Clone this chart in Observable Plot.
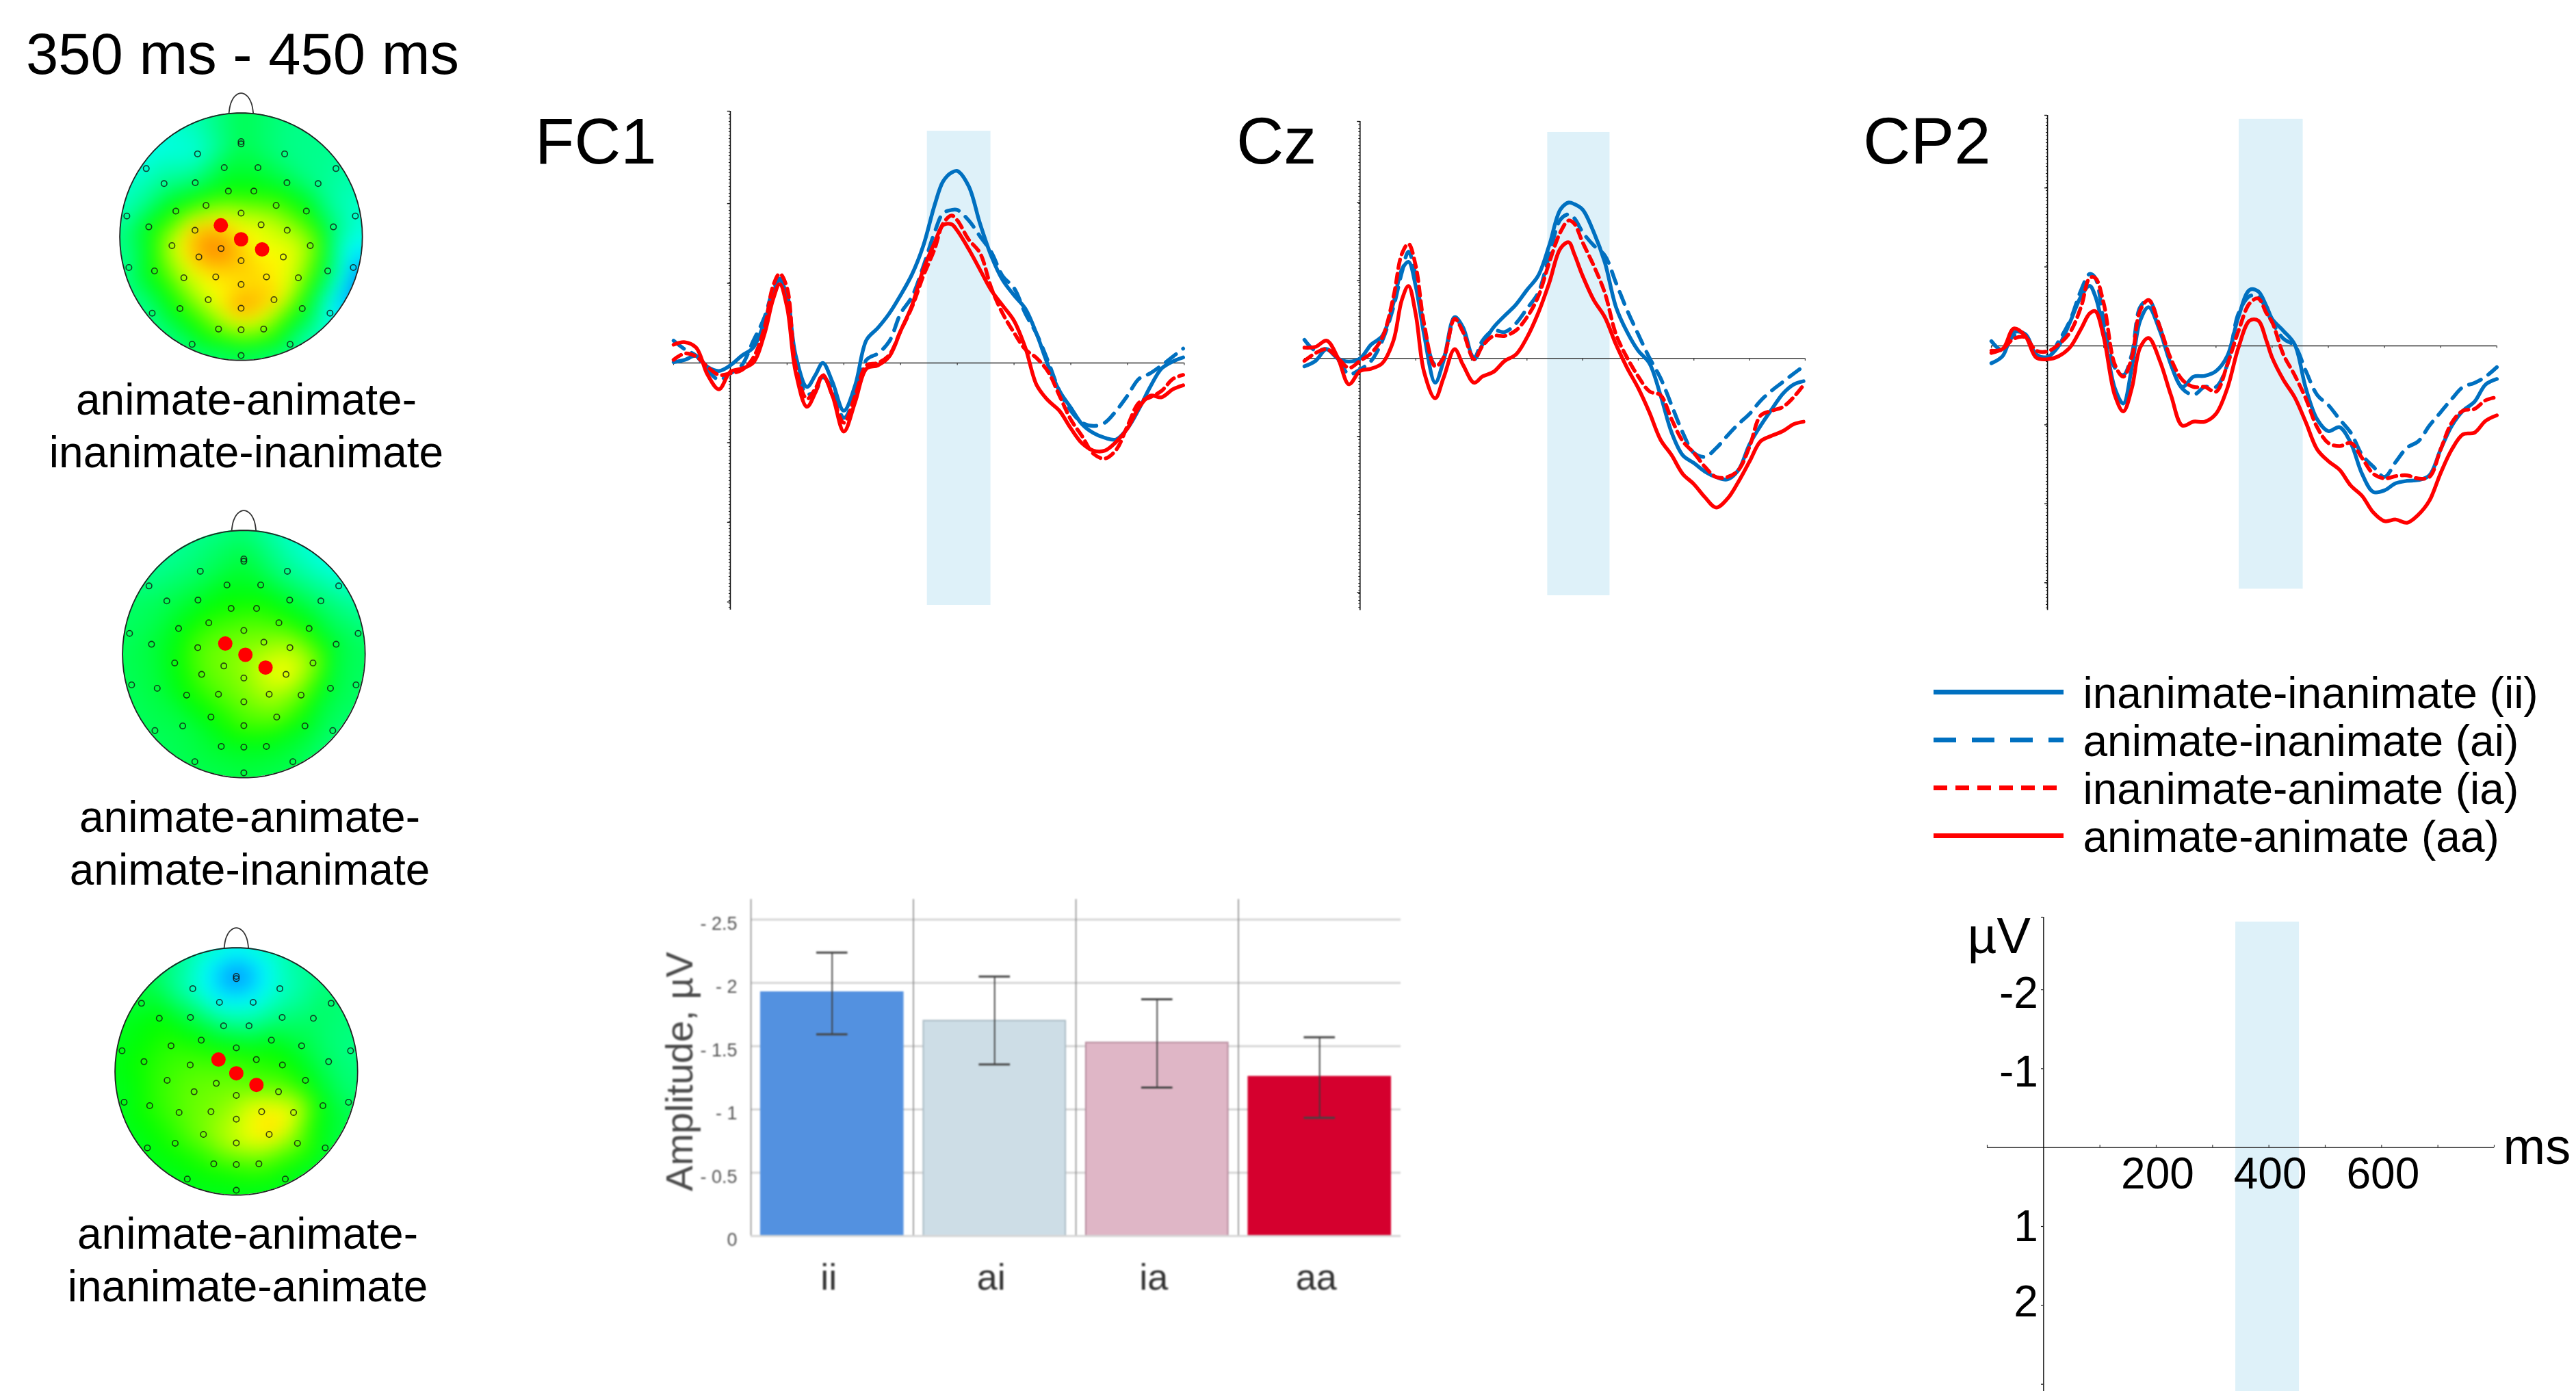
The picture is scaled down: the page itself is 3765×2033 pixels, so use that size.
<!DOCTYPE html>
<html><head><meta charset="utf-8">
<script src="https://cdn.jsdelivr.net/npm/d3@7"></script>
<script src="https://cdn.jsdelivr.net/npm/@observablehq/plot@0.6"></script>
<style>
html,body{margin:0;background:#fff}
#page{position:relative;width:3765px;height:2033px;overflow:hidden;background:#fff;font-family:"Liberation Sans",Arial,sans-serif;color:#000}
#page>svg,#page>.p{position:absolute}
.t{position:absolute;white-space:pre;line-height:normal}
</style></head><body><div id="page"></div>
<script>
// ---------- ERP data (µV, negative up) ----------
const tFC1=[-100,-80,-60,-40,-20,0,20,40,60,75,87,100,115,135,150,163,180,200,220,240,260,280,300,320,340,360,375,390,400,420,440,460,480,500,520,540,560,580,600,620,640,660,680,700,720,740,760,780,798];
const fc1_ii=[-0.01,-0.04,-0.09,0.05,0.10,0.03,-0.09,-0.19,-0.51,-0.87,-1.04,-0.83,-0.10,0.30,0.15,0.00,0.24,0.60,0.28,-0.29,-0.44,-0.62,-0.85,-1.11,-1.47,-1.98,-2.28,-2.39,-2.41,-2.22,-1.75,-1.34,-1.04,-0.85,-0.68,-0.36,0.03,0.35,0.56,0.77,0.88,0.94,0.96,0.82,0.58,0.30,0.07,-0.02,-0.07];
const fc1_ai=[-0.28,-0.17,-0.09,0.09,0.21,0.13,0.03,-0.27,-0.57,-0.91,-1.06,-0.87,-0.02,0.39,0.35,0.18,0.32,0.69,0.41,-0.04,-0.12,-0.27,-0.62,-0.83,-1.21,-1.64,-1.88,-1.92,-1.92,-1.79,-1.59,-1.39,-1.09,-0.94,-0.62,-0.36,-0.02,0.35,0.60,0.75,0.79,0.75,0.60,0.41,0.20,0.13,0.03,-0.08,-0.18];
const fc1_ia=[-0.04,-0.12,-0.08,0.05,0.15,0.13,0.09,-0.06,-0.44,-0.96,-1.12,-0.94,0.03,0.45,0.32,0.15,0.41,0.75,0.41,0.03,0.00,-0.10,-0.40,-0.70,-1.09,-1.43,-1.75,-1.85,-1.79,-1.55,-1.38,-0.94,-0.62,-0.38,-0.17,-0.06,0.11,0.41,0.71,0.92,1.14,1.20,1.09,0.79,0.50,0.43,0.35,0.20,0.15];
const fc1_aa=[-0.23,-0.26,-0.19,0.15,0.33,0.11,0.07,0.00,-0.36,-0.79,-0.99,-0.70,0.11,0.55,0.37,0.16,0.41,0.86,0.49,0.07,0.03,-0.08,-0.40,-0.72,-1.17,-1.51,-1.73,-1.74,-1.66,-1.43,-1.17,-0.91,-0.72,-0.53,-0.19,0.28,0.47,0.60,0.82,1.01,1.10,1.10,0.99,0.82,0.56,0.41,0.43,0.33,0.28];

const tCz=[-100,-80,-60,-40,-20,0,20,40,60,75,87,100,115,135,150,170,185,205,220,240,260,280,300,320,340,360,375,385,400,420,440,460,480,500,520,540,560,580,600,620,640,660,680,700,720,740,760,780,797];
const cz_ii=[0.10,0.03,-0.12,0,0.04,0,-0.18,-0.29,-0.71,-1.14,-1.24,-0.93,-0.31,0.31,0.03,-0.53,-0.40,0.01,-0.18,-0.40,-0.55,-0.69,-0.88,-1.06,-1.45,-1.91,-2.00,-1.98,-1.91,-1.62,-1.23,-0.66,-0.34,-0.10,0.06,0.47,0.95,1.24,1.34,1.45,1.52,1.55,1.43,1.10,0.86,0.65,0.45,0.33,0.29];
const cz_ai=[-0.24,-0.10,-0.12,0.01,0.20,0.14,0.03,-0.23,-0.66,-1.10,-1.37,-1.06,-0.40,0.08,-0.01,-0.53,-0.36,-0.01,-0.23,-0.36,-0.34,-0.45,-0.64,-0.84,-1.32,-1.78,-1.85,-1.80,-1.62,-1.45,-1.32,-0.97,-0.62,-0.31,-0.01,0.25,0.60,0.95,1.21,1.26,1.15,0.99,0.84,0.71,0.54,0.41,0.30,0.19,0.10];
const cz_ia=[0.03,-0.07,-0.12,-0.01,0.12,0.03,-0.07,-0.27,-0.79,-1.34,-1.47,-1.19,-0.45,0.10,-0.01,-0.51,-0.34,0.01,-0.16,-0.29,-0.29,-0.36,-0.53,-0.79,-1.23,-1.62,-1.77,-1.73,-1.49,-1.19,-0.84,-0.31,-0.01,0.23,0.42,0.47,0.78,1.06,1.21,1.39,1.52,1.52,1.43,1.13,0.73,0.67,0.62,0.49,0.34];
const cz_aa=[-0.14,-0.15,-0.23,-0.01,0.33,0.16,0.13,0.06,-0.23,-0.75,-0.93,-0.57,0.17,0.51,0.25,-0.12,0.08,0.31,0.23,0.17,0.03,-0.05,-0.27,-0.58,-0.97,-1.41,-1.49,-1.34,-1.06,-0.75,-0.53,-0.18,0.12,0.38,0.69,1.04,1.24,1.48,1.61,1.78,1.91,1.80,1.58,1.32,1.06,0.99,0.93,0.84,0.81];

const tCP2=[-100,-80,-60,-40,-20,0,20,40,60,75,85,100,120,135,150,165,180,200,220,240,260,280,300,320,340,360,375,390,400,420,440,460,480,500,520,540,560,580,600,620,640,660,680,700,720,740,760,780,800];
const cp2_ii=[0.22,0.13,-0.17,-0.15,0.11,0.14,0,-0.30,-0.63,-0.76,-0.63,-0.19,0.54,0.73,0.28,-0.32,-0.49,-0.19,0.24,0.52,0.39,0.38,0.32,0.13,-0.37,-0.71,-0.69,-0.50,-0.34,-0.19,-0.02,0.54,0.93,1.08,1.03,1.23,1.62,1.85,1.83,1.74,1.71,1.70,1.64,1.31,1.01,0.82,0.71,0.49,0.42];
const cp2_ai=[-0.06,0.06,-0.13,-0.15,0.11,0.15,-0.06,-0.32,-0.71,-0.91,-0.86,-0.32,0.28,0.37,0.11,-0.49,-0.58,-0.24,0.24,0.54,0.62,0.52,0.52,0.24,-0.41,-0.63,-0.63,-0.45,-0.30,-0.09,0.00,0.32,0.62,0.75,0.93,1.10,1.38,1.53,1.66,1.47,1.29,1.21,1.01,0.84,0.67,0.52,0.47,0.39,0.27];
const cp2_ia=[0.09,0.04,-0.09,-0.11,0.06,0.07,-0.02,-0.17,-0.50,-0.86,-0.86,-0.54,0.24,0.39,0.15,-0.45,-0.58,-0.24,0.17,0.43,0.52,0.52,0.58,0.24,-0.19,-0.54,-0.60,-0.41,-0.30,0.11,0.37,0.67,1.03,1.23,1.27,1.23,1.42,1.62,1.68,1.65,1.64,1.68,1.66,1.31,0.97,0.82,0.80,0.69,0.65];
const cp2_aa=[0.06,0.04,-0.22,-0.13,0.15,0.17,0.13,0.02,-0.22,-0.41,-0.44,-0.11,0.63,0.83,0.54,0.02,-0.10,0.19,0.63,1.01,0.96,0.96,0.86,0.54,0.02,-0.32,-0.32,-0.06,0.15,0.43,0.65,0.97,1.31,1.46,1.57,1.77,1.90,2.11,2.22,2.20,2.24,2.14,1.96,1.61,1.31,1.12,1.10,0.95,0.88];

// ---------- bar chart data ----------
const barCats=["ii","ai","ia","aa"];
const barMeans=[1.925,1.70,1.527,1.257];
const barHi=[2.24,2.05,1.87,1.57];
const barLo=[1.593,1.356,1.173,0.934];
const barFills=["#5391e0","#cddde6","#dfb6c6","#d5002e"];
const barStrokes=["#5391e0","#a9bac4","#b58a9c","#d5002e"];
const barTicks=[0,0.5,1,1.5,2,2.5];
const barTickLabels=["0","- 0.5","- 1","- 1.5","- 2","- 2.5"];

// ---------- legend ----------
const seriesLabels=["inanimate-inanimate (ii)","animate-inanimate (ai)","inanimate-animate (ia)","animate-animate (aa)"];

// ---------- scalp maps: electrode layout (head units), values 0..1 on the colour ramp ----------
const elecX=[0,0,-35.9,35.9,-78.2,78.2,-13.9,13.9,-63.5,63.5,-37.8,37.8,-10.5,10.5,-28.9,28.9,-53.8,53.8,0,-94.2,94.2,-76.1,76.1,-38,38,16.5,-16.5,-57,57,-34.8,34.8,0,-92.5,92.5,-71.4,71.4,-47.2,47.2,-20.9,20.9,0,-27.1,27.1,-50.4,50.4,0,-73.3,73.3,-18.6,18.6,0,-40.4,40.4,0];
const elecY=[78.4,76.5,68.3,68.3,56.2,56.2,57,57,43.8,43.8,44.5,44.5,37.6,37.6,25.8,25.8,21.1,21.1,19.5,17.1,17.1,8.1,8.1,5.3,5.3,9.8,-9.8,-7.3,-7.3,-16.7,-16.7,-19.7,-25.4,-25.4,-28.2,-28.2,-33.8,-33.8,-33.1,-33.1,-39.3,-51.9,-51.9,-59.2,-59.2,-59,-63,-63,-76.1,-76.1,-76.7,-88.7,-88.7,-97.9];
const rimX=[0,40,74,97,105,97,74,40,0,-40,-74,-97,-105,-97,-74,-40];
const rimY=[105,97,74,40,0,-40,-74,-97,-105,-97,-74,-40,0,40,74,97];
const noseX=[-10,-8.5,-5,0,5,8.5,10];
const noseY=[102,110,116,118.4,116,110,102];
const map1Elec=[.42,.42,.29,.37,.29,.35,.44,.44,.36,.36,.39,.43,.5,.5,.58,.58,.52,.5,.66,.34,.3,.48,.38,.82,.68,.72,.88,.70,.66,.84,.76,.81,.37,.2,.52,.42,.68,.68,.78,.78,.78,.72,.8,.52,.5,.86,.38,.24,.6,.64,.68,.42,.38,.42];
const map1Rim=[.42,.37,.36,.32,.25,.12,.28,.37,.4,.38,.36,.36,.34,.3,.27,.32];
const map1RedX=[-16.7,0,17.3], map1RedY=[9.4,-2.1,-10.5], map1Red=[.8,.78,.74];
const map2Elec=[.44,.44,.4,.36,.38,.32,.47,.46,.42,.39,.46,.45,.52,.53,.54,.55,.48,.5,.59,.41,.4,.44,.44,.58,.68,.63,.62,.49,.65,.58,.76,.64,.42,.41,.44,.44,.5,.6,.58,.68,.61,.5,.6,.43,.47,.56,.42,.4,.46,.47,.47,.43,.43,.44];
const map2Rim=[.38,.3,.27,.34,.4,.4,.38,.42,.43,.42,.41,.41,.41,.4,.35,.36];
const map2RedX=[-15.3,1.3,17.9], map2RedY=[8.7,-0.6,-11.1], map2Red=[.61,.64,.72];
const map3Elec=[.13,.13,.3,.3,.44,.4,.25,.26,.5,.4,.43,.38,.38,.36,.5,.47,.54,.44,.5,.48,.37,.52,.4,.57,.52,.53,.6,.56,.49,.6,.62,.63,.47,.4,.53,.48,.58,.74,.62,.77,.69,.62,.79,.53,.6,.7,.48,.46,.54,.58,.56,.48,.48,.48];
const map3Rim=[.28,.33,.38,.38,.37,.42,.45,.47,.47,.47,.47,.47,.47,.47,.43,.34];
const map3RedX=[-14.7,0,16.6], map3RedY=[9.8,-1.5,-11.1], map3Red=[.55,.58,.58];

// ---------- styles ----------
const page=document.getElementById("page");
const FONT='"Liberation Sans",Arial,sans-serif';
const BLUE="#0070c0",RED="#ff0000",BAND="#def1f9",AX="#333";
const S={background:"none",overflow:"visible"};
function put(el,left,top){el.style.position="absolute";el.style.left=left+"px";el.style.top=top+"px";el.style.maxWidth="none";page.appendChild(el);return el;}
function text(s,x,baseline,size,center){const d=document.createElement("div");d.className="t";d.textContent=s;d.style.fontSize=size+"px";d.style.left=x+"px";d.style.top=(baseline-0.905*size)+"px";if(center)d.style.transform="translateX(-50%)";page.appendChild(d);}
const curve="catmull-rom";
const lineStyles=[
 {stroke:BLUE,strokeWidth:5.5},
 {stroke:BLUE,strokeWidth:5.5,strokeDasharray:"19 13"},
 {stroke:RED,strokeWidth:5.5,strokeDasharray:"13 8"},
 {stroke:RED,strokeWidth:5.5}];

function axisMarks(yt){return [
  Plot.ruleY([0],{x1:-100,x2:800,stroke:AX,strokeWidth:1.6}),
  Plot.ruleX(d3.range(-100,801,100).filter(d=>d),{y1:0,y2:0.03,stroke:AX,strokeWidth:1.2}),
  Plot.ruleX([0],{stroke:"#111",strokeWidth:1.6}),
  Plot.ruleX([0],{dx:-1.5,stroke:"#111",strokeWidth:2,strokeDasharray:"1 4"}),
  Plot.ruleY(yt,{x1:-5,x2:0,stroke:"#111",strokeWidth:1.4})];}

function erp(o){
  const marks=[
    Plot.rect([o.band],{x1:d=>d[0],x2:d=>d[1],y1:d=>d[2],y2:d=>d[3],fill:BAND}),
    ...axisMarks(o.yt)];
  o.series.forEach((v,i)=>{ if(v.length!==o.t.length) throw new Error("len "+o.name+" "+i+" "+v.length);
    marks.push(Plot.line(v,{x:(d,j)=>o.t[j],y:d=>d,curve,...lineStyles[i]}));});
  put(Plot.plot({width:o.x1-o.x0,height:o.y1-o.y0,margin:0,style:S,
    x:{domain:[-100,800],range:[0,o.x1-o.x0],axis:null},
    y:{domain:o.yd,range:[o.y1-o.y0,0],axis:null},marks}),o.x0,o.y0);
}
erp({name:"FC1",t:tFC1,series:[fc1_ii,fc1_ai,fc1_ia,fc1_aa],x0:984.4,x1:1730.8,y0:162,y1:891,yd:[3.10,-3.16],yt:[-3.16,-2,-1,1,2,3],band:[347,459,-2.91,3.04]});
erp({name:"Cz",t:tCz,series:[cz_ii,cz_ai,cz_ia,cz_aa],x0:1906.1,x1:2638,y0:177.3,y1:892,yd:[3.23,-3.04],yt:[-3.04,-2,-1,1,2,3],band:[337,449,-2.90,3.04]});
erp({name:"CP2",t:tCP2,series:[cp2_ii,cp2_ai,cp2_ia,cp2_aa],x0:2909.9,x1:3648.7,y0:168.4,y1:892,yd:[3.35,-2.92],yt:[-2.92,-2,-1,1,2,3],band:[341,455,-2.87,3.08]});
text("FC1",782,238.5,94);text("Cz",1807,238,96);text("CP2",2723,238,96);
text("350 ms - 450 ms",38,107,85);

// ---------- scale key panel ----------
const keyYTicks=[-2,-1,1,2], keyYLabelAt=[-2,-1,0.96,1.91], keyXLabels=[200,400,600];
put(Plot.plot({width:741,height:693,margin:0,style:S,
  x:{domain:[-100,800],range:[0,741],axis:null},
  y:{domain:[3.09,-2.92],range:[693,0],axis:null},
  marks:[
   Plot.rect([[341,454,-2.86,3.09]],{x1:d=>d[0],x2:d=>d[1],y1:d=>d[2],y2:d=>d[3],fill:BAND}),
   Plot.ruleY([0],{x1:-100,x2:800,stroke:AX,strokeWidth:1.4}),
   Plot.ruleX(d3.range(-100,801,100).filter(d=>d),{y1:-0.03,y2:0,stroke:AX,strokeWidth:1.2}),
   Plot.ruleX([0],{stroke:"#111",strokeWidth:1.4}),
   Plot.ruleY(keyYTicks.concat([-2.92,3]),{x1:-4,x2:0,stroke:"#111",strokeWidth:1.2}),
   Plot.text(keyXLabels,{x:d=>d,y:()=>0.34,dx:2,fontSize:64,fontFamily:FONT,fill:"#000"}),
   Plot.text(keyYTicks,{x:()=>0,y:(d,i)=>keyYLabelAt[i],dx:-8,dy:6,textAnchor:"end",fontSize:64,fontFamily:FONT,fill:"#000",text:d=>String(d)}),
   Plot.text(["µV"],{x:()=>0,y:()=>-2.67,dx:-65,fontSize:74,fontFamily:FONT,fill:"#000"}),
   Plot.text(["ms"],{x:()=>800,y:()=>0,dx:13,textAnchor:"start",fontSize:74,fontFamily:FONT,fill:"#000"})
  ]}),2904,1340);

// ---------- legend ----------
const legendStyles=[{stroke:BLUE},{stroke:BLUE,strokeDasharray:"33 23"},{stroke:RED,strokeDasharray:"20 12"},{stroke:RED}];
put(Plot.plot({width:900,height:290,margin:0,style:S,
  x:{domain:[0,900],range:[0,900],axis:null},
  y:{type:"point",domain:seriesLabels,range:[40,250],padding:0,axis:null},
  marks:[
   ...seriesLabels.map((s,i)=>Plot.ruleY([s],{x1:0,x2:190,strokeWidth:7,...legendStyles[i]})),
   Plot.text(seriesLabels,{x:()=>218,y:d=>d,dy:3,textAnchor:"start",fontSize:64,fontFamily:FONT,fill:"#000"})
  ]}),2826,971);

// ---------- bar chart ----------
const barTable=barCats.map((c,i)=>({c,m:barMeans[i],hi:barHi[i],lo:barLo[i],fill:barFills[i],st:barStrokes[i]}));
const NARROW='"Liberation Sans Narrow","Liberation Sans",Arial,sans-serif';
put(Plot.plot({width:1120,height:592,marginLeft:150,marginRight:20,marginTop:0,marginBottom:100,
  style:{...S,filter:"blur(1.1px)"},
  x:{type:"band",domain:barCats,paddingInner:0.126,paddingOuter:0.063,round:false,axis:null,label:null},
  y:{domain:[0,2.66],axis:null},
  marks:[
   Plot.ruleY(barTicks.slice(1),{stroke:"#d6d6d6",strokeWidth:3}),
   Plot.barY(barTable,{x:"c",y:"m",fill:"fill",stroke:"st",strokeWidth:2}),
   Plot.ruleX(barCats,{x:d=>d,y1:0,y2:2.66,dx:-118.7,stroke:"#8a8a8a",strokeWidth:1.6}),
   Plot.ruleY([0],{stroke:"#d6d6d6",strokeWidth:3}),
   Plot.ruleX(barTable,{x:"c",y1:"lo",y2:"hi",stroke:"#3c3c3c",strokeWidth:1.8}),
   Plot.tickY(barTable,{x:"c",y:"hi",insetLeft:81,insetRight:81,stroke:"#444",strokeWidth:3}),
   Plot.tickY(barTable,{x:"c",y:"lo",insetLeft:81,insetRight:81,stroke:"#444",strokeWidth:3}),
   Plot.text(barTicks,{y:d=>d,text:(d,i)=>barTickLabels[i],frameAnchor:"left",dx:-20,dy:6,textAnchor:"end",fontSize:27,fontFamily:NARROW,fill:"#555"}),
   Plot.text(barCats,{x:d=>d,y:()=>-0.33,dx:-5,fontSize:54,fontFamily:NARROW,fill:"#333"}),
   Plot.text(["Amplitude, µV"],{y:()=>1.3,frameAnchor:"left",textAnchor:"middle",dx:-103,rotate:-90,fontSize:56,fontFamily:FONT,fill:"#4a4a4a"})
  ]}),947,1314);

// ---------- scalp maps ----------
const JET_D=[0,.25,.375,.5,.625,.75,.875,1];
const JET_R=["#0000ff","#00ffff","#00ff80","#00ff00","#80ff00","#ffff00","#ff8000","#ff0000"];
const K=177.3/100;
function scalp(o){
  const X=elecX.concat(o.redX,rimX),Y=elecY.concat(o.redY,rimY),V=o.elec.concat(o.red,o.rim);
  if(V.length!==X.length) throw new Error("scalp len "+V.length+" vs "+X.length);
  const rw=354,rh=362;
  const pts=V.map((v,i)=>({x:X[i],y:Y[i],v}));
  const img=Plot.plot({width:rw,height:rh,margin:0,style:{background:"none",clipPath:"ellipse(50% 50% at 50% 50%)"},
    x:{domain:[-100,100],axis:null},y:{domain:[-102,102],axis:null},
    color:{type:"linear",domain:JET_D,range:JET_R,clamp:true},
    marks:[Plot.raster(pts,{x:"x",y:"y",fill:"v",x1:-100,x2:100,y1:-102,y2:102,pixelSize:2,interpolate:"barycentric",blur:6,imageRendering:"auto"})]});
  put(img,o.cx-rw/2,o.cy-rh/2);
  const w=230*K,h=245*K;
  const a=d3.range(0,361,4).map(d=>d*Math.PI/180);
  const head=a.map(t=>({x:100*Math.cos(t),y:102*Math.sin(t)}));
  put(Plot.plot({width:w,height:h,margin:0,style:S,
    x:{domain:[-115,115],axis:null},y:{domain:[-115,130],axis:null},
    marks:[
      Plot.line(head,{x:"x",y:"y",stroke:"#222",strokeWidth:1.8}),
      Plot.line(noseX,{x:d=>d,y:(d,i)=>noseY[i],stroke:"#333",strokeWidth:1.8,curve}),
      Plot.dot(elecX,{x:d=>d,y:(d,i)=>elecY[i],r:4.2,stroke:"#111",strokeOpacity:.8,strokeWidth:1.6,fill:"none"}),
      Plot.dot(o.redX,{x:d=>d,y:(d,i)=>o.redY[i],r:10.5,fill:RED,stroke:"none"})
    ]}),o.cx-115*K,o.cy-130*K);
}
scalp({cx:352.3,cy:345.3,elec:map1Elec,rim:map1Rim,red:map1Red,redX:map1RedX,redY:map1RedY});
scalp({cx:356,cy:955,elec:map2Elec,rim:map2Rim,red:map2Red,redX:map2RedX,redY:map2RedY});
scalp({cx:345,cy:1565,elec:map3Elec,rim:map3Rim,red:map3Red,redX:map3RedX,redY:map3RedY});
text("animate-animate-",360,605,64,true);text("inanimate-inanimate",360,682,64,true);
text("animate-animate-",365,1215,64,true);text("animate-inanimate",365,1292,64,true);
text("animate-animate-",362,1824,64,true);text("inanimate-animate",362,1901,64,true);
</script></body></html>
